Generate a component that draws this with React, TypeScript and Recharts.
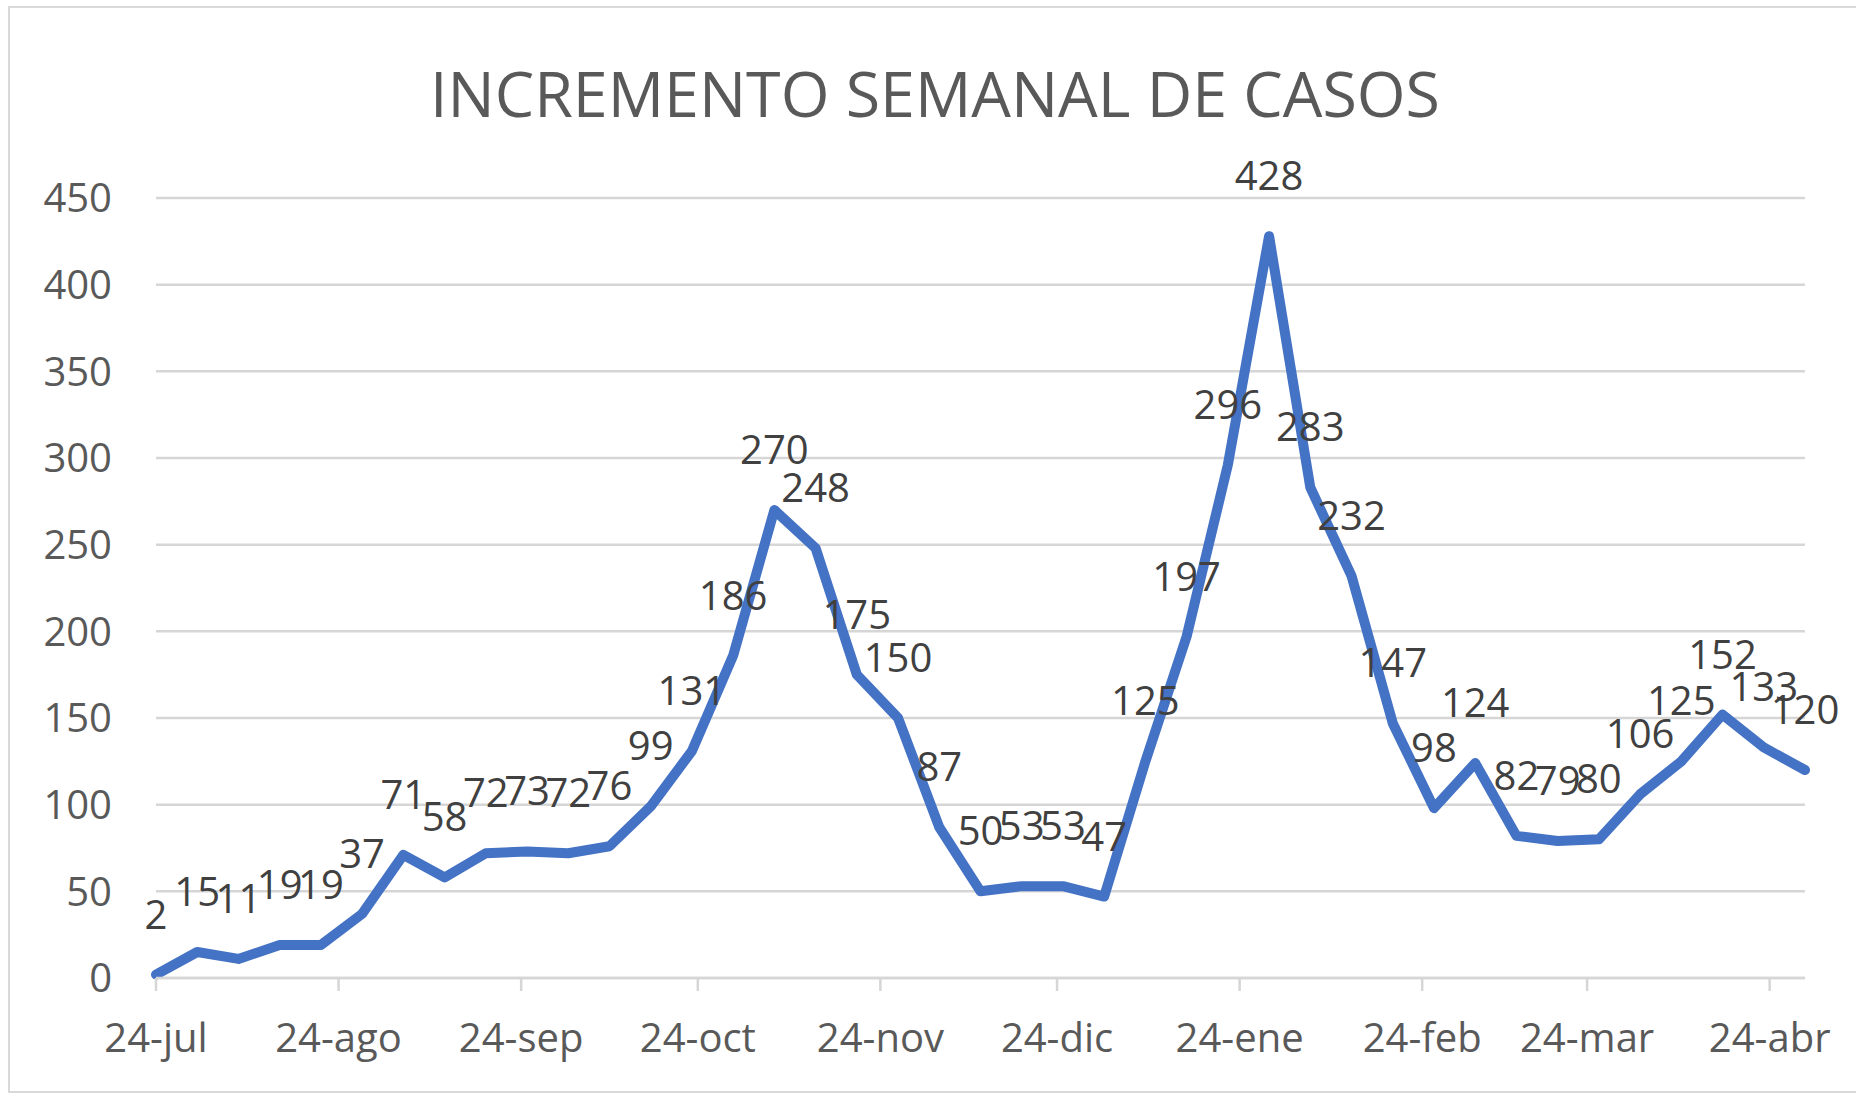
import React from 'react';
import { LineChart, Line, XAxis, YAxis, CartesianGrid, LabelList } from 'recharts';

const chartTitle = 'INCREMENTO SEMANAL DE CASOS';

const weekDates = [
  '2020-07-24', '2020-07-31', '2020-08-07', '2020-08-14', '2020-08-21', '2020-08-28',
  '2020-09-04', '2020-09-11', '2020-09-18', '2020-09-25', '2020-10-02', '2020-10-09',
  '2020-10-16', '2020-10-23', '2020-10-30', '2020-11-06', '2020-11-13', '2020-11-20',
  '2020-11-27', '2020-12-04', '2020-12-11', '2020-12-18', '2020-12-25', '2021-01-01',
  '2021-01-08', '2021-01-15', '2021-01-22', '2021-01-29', '2021-02-05', '2021-02-12',
  '2021-02-19', '2021-02-26', '2021-03-05', '2021-03-12', '2021-03-19', '2021-03-26',
  '2021-04-02', '2021-04-09', '2021-04-16', '2021-04-23', '2021-04-30',
];

const weeklyCases = [
  2, 15, 11, 19, 19, 37, 71, 58, 72, 73, 72, 76, 99, 131, 186, 270, 248, 175, 150, 87,
  50, 53, 53, 47, 125, 197, 296, 428, 283, 232, 147, 98, 124, 82, 79, 80, 106, 125, 152, 133, 120,
];

const xTickDates = [
  '2020-07-24', '2020-08-24', '2020-09-24', '2020-10-24', '2020-11-24',
  '2020-12-24', '2021-01-24', '2021-02-24', '2021-03-24', '2021-04-24',
];
const xTickLabels = [
  '24-jul', '24-ago', '24-sep', '24-oct', '24-nov', '24-dic', '24-ene', '24-feb', '24-mar', '24-abr',
];
const yTicks = [0, 50, 100, 150, 200, 250, 300, 350, 400, 450];

const toTime = (s: string) => Date.parse(s + 'T00:00:00Z');
const data = weekDates.map((d, i) => ({ t: toTime(d), casos: weeklyCases[i] }));
const xTickTimes = xTickDates.map(toTime);

const FONT = "'Open Sans', 'Noto Sans', sans-serif";

const formatX = (v: number) => {
  const i = xTickTimes.indexOf(v);
  return i >= 0 ? xTickLabels[i] : '';
};

const renderLabel = (props: any) => {
  const x = props.x ?? props.viewBox?.x;
  const y = props.y ?? props.viewBox?.y;
  return (
    <text x={x} y={y - 46} textAnchor="middle" fill="#404040" fontSize={40} fontFamily={FONT}>
      {props.value}
    </text>
  );
};

export default function App() {
  return (
    <div style={{ position: 'absolute', left: 0, top: 0, width: 1856, height: 1096, overflow: 'hidden', background: '#fff' }}>
      <div
        style={{
          position: 'absolute', left: 8, top: 6, width: 1900, height: 1087,
          border: '2.5px solid #D9D9D9', boxSizing: 'border-box',
        }}
      />
      <svg style={{ position: 'absolute', left: 0, top: 0 }} width={1856} height={200}>
        <text x={935} y={117} textAnchor="middle" fill="#595959" fontSize={62.7} fontFamily={FONT}>
          {chartTitle}
        </text>
      </svg>
      <div style={{ position: 'absolute', left: 0, top: 0 }}>
        <LineChart width={1856} height={1096} data={data} margin={{ top: 198, right: 51, left: 0, bottom: 0 }}>
          <CartesianGrid horizontal vertical={false} stroke="#D6D6D6" strokeWidth={2.5} />
          <XAxis
            dataKey="t"
            type="number"
            domain={['dataMin', 'dataMax']}
            ticks={xTickTimes}
            interval={0}
            tickFormatter={formatX}
            height={118}
            tickSize={13}
            tickMargin={33}
            axisLine={{ stroke: '#D6D6D6', strokeWidth: 2.5 }}
            tickLine={{ stroke: '#D6D6D6', strokeWidth: 2.5 }}
            tick={{ fill: '#595959', fontSize: 40, fontFamily: FONT }}
          />
          <YAxis
            type="number"
            domain={[0, 450]}
            ticks={yTicks}
            interval={0}
            width={156}
            tickSize={0}
            tickMargin={44}
            axisLine={false}
            tickLine={false}
            tick={{ fill: '#595959', fontSize: 40, fontFamily: FONT }}
          />
          <Line
            type="linear"
            dataKey="casos"
            stroke="#4472C4"
            strokeWidth={10}
            strokeLinejoin="round"
            strokeLinecap="round"
            dot={false}
            activeDot={false}
            isAnimationActive={false}
          >
            <LabelList dataKey="casos" content={renderLabel} />
          </Line>
        </LineChart>
      </div>
    </div>
  );
}
